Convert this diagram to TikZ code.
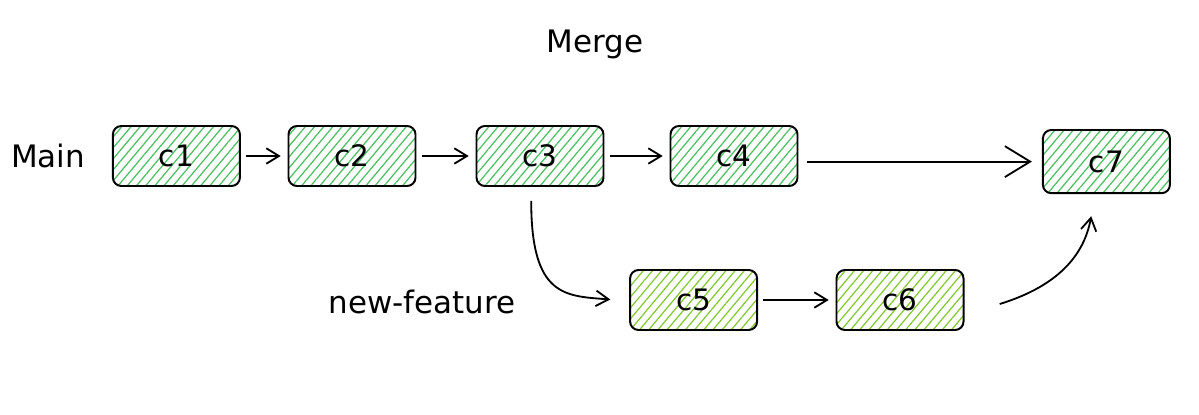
\documentclass[tikz,border=0pt]{standalone}
\usepackage{fontspec}
\setmainfont{DejaVu Sans}
\usetikzlibrary{arrows.meta,patterns.meta}
\definecolor{mainhatch}{HTML}{4FBF64}
\definecolor{featurehatch}{HTML}{86C832}
\begin{document}
\begin{tikzpicture}[
    commit/.style={draw, line width=1.4pt, rounded corners=6pt, minimum width=3.175cm, minimum height=1.5cm, align=center, font=\fontsize{21}{25}\selectfont, pattern={Lines[angle=50, distance=5pt, line width=0.9pt]}},
    maincommit/.style={commit, pattern color=mainhatch},
    featurecommit/.style={commit, pattern color=featurehatch},
    lbl/.style={font=\fontsize{22}{26}\selectfont},
    arr/.style={-{Straight Barb[length=9pt, width=11pt]}, line width=1.3pt, shorten <=0.13cm, shorten >=0.17cm},
]
\useasboundingbox (0,0) rectangle (29.975,10.35);

% --- Main branch ---
\node[maincommit] (c1) at (4.41, 6.45) {c1};
\node[maincommit] (c2) at (8.80, 6.45) {c2};
\node[maincommit] (c3) at (13.50, 6.45) {c3};
\node[maincommit] (c4) at (18.35, 6.45) {c4};
\node[maincommit, minimum height=1.58cm] (c7) at (27.66, 6.31) {c7};

% --- Feature branch ---
\node[featurecommit] (c5) at (17.34, 2.85) {c5};
\node[featurecommit] (c6) at (22.50, 2.85) {c6};

% --- Labels ---
\node[lbl] (main) at (1.20, 6.45) {Main};
\node[lbl] (feature) at (10.55, 2.80) {new-feature};
\node[lbl] (merge) at (14.88, 9.23) {Merge};

% === Arrows: main branch ===
\draw[arr] (c1) -- (c2);
\draw[arr] (c2) -- (c3);
\draw[arr] (c3) -- (c4);
\draw[arr, -{Straight Barb[length=18pt, width=22pt]}, shorten <=0.22cm, shorten >=0.25cm] (c4.east |- c7.west) -- (c7.west);

% === Arrows: branching off and merging back ===
\draw[arr, shorten <=0pt] ([xshift=-0.22cm, yshift=-0.35cm]c3.south) .. controls +(0cm,-2.4cm) and +(-1.3cm,0.1cm) .. ([xshift=-0.3cm]c5.west);
\draw[arr] (c5) -- (c6);
\draw[arr, shorten <=0pt, shorten >=0pt] ([xshift=0.88cm, yshift=-0.1cm]c6.east) .. controls +(1.3cm,0.4cm) and +(-0.2cm,-1.1cm) .. ([xshift=-0.38cm, yshift=-0.55cm]c7.south);

\end{tikzpicture}
\end{document}
